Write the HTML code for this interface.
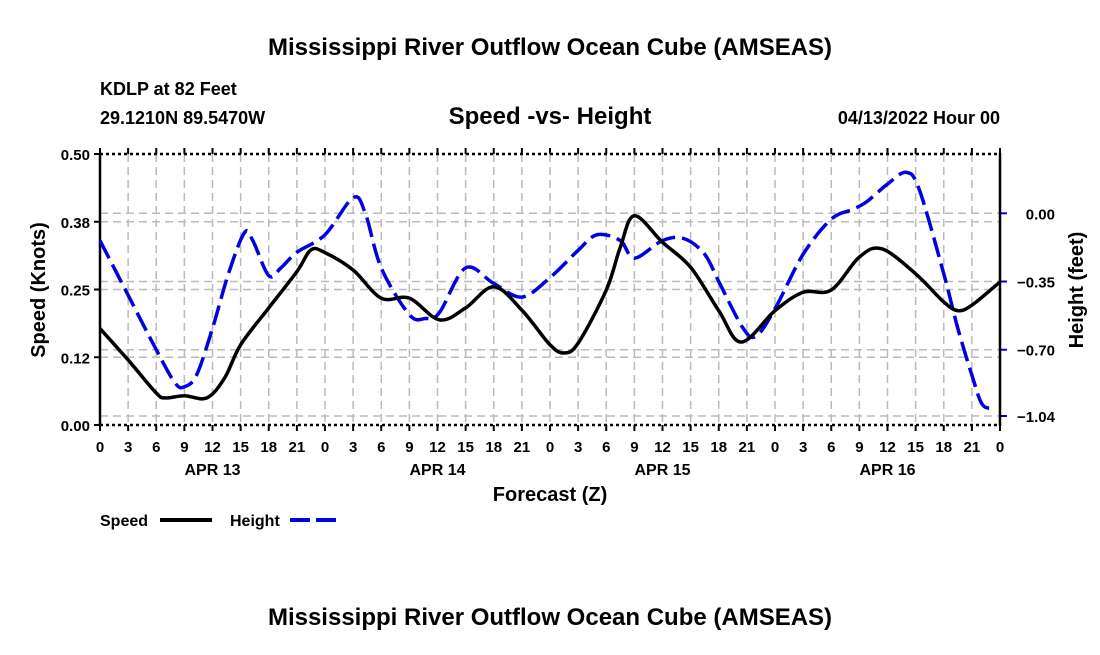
<!DOCTYPE html>
<html><head><meta charset="utf-8"><style>
body{margin:0;background:#fff;}
svg text{font-family:"Liberation Sans",Arial,sans-serif;font-weight:bold;fill:#000;}
</style></head><body>
<svg id="chart" width="1100" height="650" viewBox="0 0 1100 650" xmlns="http://www.w3.org/2000/svg">
<text x="550" y="55" font-size="24" text-anchor="middle">Mississippi River Outflow Ocean Cube (AMSEAS)</text>
<text x="100" y="95" font-size="18">KDLP at 82 Feet</text>
<text x="100" y="124" font-size="18">29.1210N  89.5470W</text>
<text x="550" y="124" font-size="24" text-anchor="middle">Speed -vs- Height</text>
<text x="1000" y="124" font-size="18" text-anchor="end">04/13/2022 Hour 00</text>
<g id="grid"></g>
<g id="axes"></g>
<g id="series"></g>
<text transform="translate(45,290) rotate(-90)" font-size="20" text-anchor="middle">Speed (Knots)</text>
<text transform="translate(1083,290) rotate(-90)" font-size="20" text-anchor="middle">Height (feet)</text>
<text x="550" y="501" font-size="20" text-anchor="middle">Forecast (Z)</text>
<g>
<text x="100" y="526" font-size="16">Speed</text>
<line x1="160" y1="520" x2="212" y2="520" stroke="#000" stroke-width="4"/>
<text x="230" y="526" font-size="16">Height</text>
<line x1="290" y1="520" x2="342" y2="520" stroke="#0000e0" stroke-width="4" stroke-dasharray="20,6"/>
</g>
<text x="550" y="625" font-size="24" text-anchor="middle">Mississippi River Outflow Ocean Cube (AMSEAS)</text>
</svg>
<script>
const speedHours=[0,3,6,7,9,11.4,13.3,15,18,21,22.5,24,27,30,33,36.2,39,42,45,48,49.5,51,54,55.5,57,60,63,66,68.4,72,75,78,81,83.4,87,90,91.5,93,96];
const speedValues=[0.178,0.120,0.059,0.050,0.054,0.050,0.087,0.148,0.216,0.283,0.323,0.318,0.286,0.234,0.234,0.194,0.216,0.255,0.212,0.148,0.133,0.151,0.249,0.328,0.386,0.337,0.291,0.211,0.153,0.211,0.245,0.249,0.310,0.325,0.279,0.227,0.211,0.221,0.264];
const heightHours=[0,3,6,8,9,10.3,12,13.7,15.4,16.3,18,19.3,21,24,27,28.3,30,33,34.7,36.2,39,42,45,48,51,53,55.5,57,60,62.3,64.5,66,68.6,70,72,75,78,80.3,81.8,84,86,87.4,90,91.5,93,94.1,95.3];
const heightValues=[-0.14,-0.42,-0.70,-0.87,-0.89,-0.83,-0.59,-0.31,-0.10,-0.14,-0.32,-0.28,-0.20,-0.11,0.08,0.0,-0.28,-0.52,-0.54,-0.51,-0.28,-0.36,-0.43,-0.33,-0.19,-0.11,-0.14,-0.23,-0.14,-0.13,-0.21,-0.35,-0.59,-0.63,-0.49,-0.21,-0.03,0.02,0.06,0.15,0.21,0.12,-0.31,-0.59,-0.83,-0.98,-1.00];
const xTickLabels=["0","3","6","9","12","15","18","21"];
const dateLabels=["APR 13","APR 14","APR 15","APR 16"];
const speedTicks=[0,0.125,0.25,0.375,0.5];
const speedTickLabels=["0.00","0.12","0.25","0.38","0.50"];
const heightTicks=[0,-0.35,-0.70,-1.04];
const heightTickLabels=["0.00","\u22120.35","\u22120.70","\u22121.04"];

const NS="http://www.w3.org/2000/svg";
const X0=100,X1=1000,YT=154,YB=425;
const xs=h=>X0+(X1-X0)*h/96;
const ysL=v=>YB-(YB-YT)*v/0.5;
const ysR=v=>213.3-v*(416-213.3)/1.04;
function mk(tag,attrs,parent){const e=document.createElementNS(NS,tag);for(const k in attrs)e.setAttribute(k,attrs[k]);parent.appendChild(e);return e;}
const grid=document.getElementById('grid'),axes=document.getElementById('axes'),series=document.getElementById('series');
for(let i=1;i<32;i++){
  const l=mk('line',{x1:xs(i*3),x2:xs(i*3),y1:YT,y2:YB,stroke:'#bbb','stroke-width':1.5,'stroke-dasharray':'8,5'},grid);
  
  
}
speedTicks.forEach((v,i)=>{
  if(v>0&&v<0.5){const l=mk('line',{x1:X0,x2:X1,y1:ysL(v),y2:ysL(v),stroke:'#bbb','stroke-width':1.5,'stroke-dasharray':'8,5'},grid);
  
  }
  const t=mk('line',{x1:X0-6,x2:X0,y1:ysL(v),y2:ysL(v),stroke:'#000','stroke-width':2},axes);
  
  
  const tx=mk('text',{x:X0-10,y:ysL(v)+6,'font-size':15,'text-anchor':'end'},axes);tx.textContent=speedTickLabels[i];
  
  
});
heightTicks.forEach((v,i)=>{
  const l=mk('line',{x1:X0,x2:X1,y1:ysR(v),y2:ysR(v),stroke:'#bbb','stroke-width':1.5,'stroke-dasharray':'8,5'},grid);
  
  
  const t=mk('line',{x1:X1,x2:X1+7,y1:ysR(v),y2:ysR(v),stroke:'#0000e0','stroke-width':2},axes);
  
  
  const tx=mk('text',{x:1055,y:ysR(v)+6,'font-size':15,'text-anchor':'end'},axes);tx.textContent=heightTickLabels[i];
  
  
});
// frame
[[X0,YT,X1,YT,'3,3'],[X0,YB,X1,YB,'3,3']].forEach(a=>{const l=mk('line',{x1:a[0],y1:a[1],x2:a[2],y2:a[3],stroke:'#000','stroke-width':2.5,'stroke-dasharray':a[4]},axes);
  
  });
const la=mk('line',{x1:X0,y1:YT-1,x2:X0,y2:YB+1,stroke:'#000','stroke-width':2.5},axes);


const ra=mk('line',{x1:X1,y1:YT-1,x2:X1,y2:YB+1,stroke:'#000','stroke-width':2.5},axes);


for(let i=0;i<=32;i++){
  const h=i*3;
  [YT,YB].forEach(y=>{const t=mk('line',{x1:xs(h),x2:xs(h),y1:y===YT?YT-6:YB,y2:y===YT?YT:YB+6,stroke:'#000','stroke-width':2},axes);
  
  });
  const tx=mk('text',{x:xs(h),y:452,'font-size':15,'text-anchor':'middle'},axes);tx.textContent=xTickLabels[i%8];
  
  
}
dateLabels.forEach((d,i)=>{const tx=mk('text',{x:xs(12+24*i),y:475,'font-size':16,'text-anchor':'middle'},axes);tx.textContent=d;
  
  });
function spline(pts){let d='M'+pts[0][0]+','+pts[0][1];
  for(let i=0;i<pts.length-1;i++){const p0=pts[Math.max(0,i-1)],p1=pts[i],p2=pts[i+1],p3=pts[Math.min(pts.length-1,i+2)];
    const c1=[p1[0]+(p2[0]-p0[0])/6,p1[1]+(p2[1]-p0[1])/6],c2=[p2[0]-(p3[0]-p1[0])/6,p2[1]-(p3[1]-p1[1])/6];
    d+=' C'+c1.join(',')+' '+c2.join(',')+' '+p2.join(',');}
  return d;}
const hp=mk('path',{d:spline(heightHours.map((h,i)=>[xs(h),ysR(heightValues[i])])),fill:'none',stroke:'#0000e0','stroke-width':3.5,'stroke-dasharray':'20,7'},series);


const sp=mk('path',{d:spline(speedHours.map((h,i)=>[xs(h),ysL(speedValues[i])])),fill:'none',stroke:'#000','stroke-width':3.5},series);


</script>
</body></html>
